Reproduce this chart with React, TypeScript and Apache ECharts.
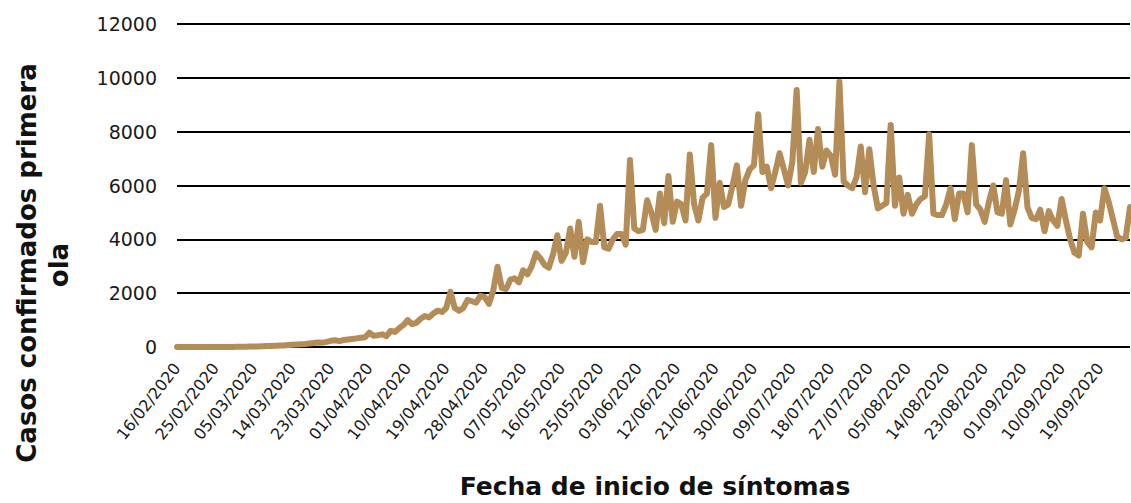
import React, { useEffect, useRef } from "react";
import * as echarts from "echarts";

const startDate = { year: 2020, month: 2, day: 16 };
const yTicks = [0, 2000, 4000, 6000, 8000, 10000, 12000];
const xTitle = "Fecha de inicio de síntomas";
const yTitleLine1 = "Casos confirmados primera";
const yTitleLine2 = "ola";

const cases = [
  0, 0, 0, 0, 0, 0, 0, 0, 1, 0, 1, 2, 3, 4,
  5, 8, 10, 14, 18, 22, 30, 35, 40, 48, 55, 60, 70, 80,
  90, 100, 110, 130, 150, 170, 160, 190, 230, 250, 220, 260, 280, 300,
  320, 340, 360, 530, 420, 440, 470, 400, 600, 560, 700, 820, 1000, 850,
  900, 1050, 1150, 1100, 1250, 1350, 1300, 1450, 2050, 1450, 1350, 1450, 1750, 1700,
  1650, 1900, 1850, 1600, 2100, 2980, 2200, 2150, 2500, 2550, 2400, 2850, 2700, 3000,
  3480, 3300, 3050, 2950, 3450, 4150, 3200, 3500, 4400, 3350, 4650, 3150, 4000, 3900,
  3900, 5250, 3700, 3650, 4000, 4200, 4200, 3800, 6950, 4400, 4300, 4350, 5450, 5000,
  4350, 5700, 4600, 6350, 4650, 5400, 5300, 4700, 7150, 5300, 4700, 5550, 5700, 7500,
  4800, 6100, 5200, 5300, 6000, 6750, 5250, 6200, 6600, 6750, 8650, 6500, 6700, 5900,
  6500, 7200, 6600, 6000, 6900, 9550, 6100, 6500, 7700, 6500, 8100, 6700, 7300, 7100,
  6400, 9850, 6150, 6000, 5900, 6300, 7450, 5750, 7350, 6000, 5150, 5250, 5350, 8250,
  5250, 6300, 4950, 5650, 4950, 5300, 5500, 5600, 7900, 4950, 4900, 4900, 5300, 5900,
  4750, 5700, 5700, 5000, 7500, 5300, 5100, 4650, 5400, 6000, 5000, 4950, 6200, 4550,
  5100, 5800, 7200, 5200, 4800, 4750, 5100, 4300, 5050, 4700, 4500, 5500, 4700, 4000,
  3500, 3400, 4950, 3900, 3700, 5000, 4700, 5900, 5400, 4750, 4100, 4000, 4050, 5200,
];

function buildDates(count: number): string[] {
  const out: string[] = [];
  const d = new Date(Date.UTC(startDate.year, startDate.month - 1, startDate.day));
  for (let i = 0; i < count; i++) {
    const dd = String(d.getUTCDate()).padStart(2, "0");
    const mm = String(d.getUTCMonth() + 1).padStart(2, "0");
    out.push(`${dd}/${mm}/${d.getUTCFullYear()}`);
    d.setUTCDate(d.getUTCDate() + 1);
  }
  return out;
}

const dates = buildDates(cases.length);
const FONT = "'DejaVu Sans', sans-serif";

export default function App() {
  const ref = useRef<HTMLDivElement>(null);
  useEffect(() => {
    if (!ref.current) return;
    const chart = echarts.init(ref.current, undefined, { renderer: "svg" });
    chart.setOption({
      animation: false,
      backgroundColor: "#ffffff",
      grid: { left: 177, right: 1, top: 24, bottom: 156, containLabel: false },
      xAxis: {
        type: "category",
        data: dates,
        boundaryGap: false,
        axisLine: { show: false },
        axisTick: { show: false },
        splitLine: { show: false },
        axisLabel: {
          interval: 8,
          rotate: 52,
          fontSize: 16,
          fontFamily: FONT,
          color: "#1a1a1a",
          margin: 18,
        },
      },
      yAxis: {
        type: "value",
        min: yTicks[0],
        max: yTicks[yTicks.length - 1],
        interval: 2000,
        axisLine: { show: false },
        axisTick: { show: false },
        axisLabel: {
          fontSize: 19,
          fontFamily: FONT,
          color: "#1a1a1a",
          margin: 20,
          formatter: (v: number) => String(v),
        },
        splitLine: { show: true, lineStyle: { color: "#000000", width: 2 } },
      },
      series: [
        {
          type: "line",
          data: cases,
          symbol: "none",
          smooth: false,
          lineStyle: { color: "#B48C58", width: 6, join: "round", cap: "round" },
          itemStyle: { color: "#B48C58" },
          z: 3,
        },
      ],
      graphic: [
        {
          type: "text",
          x: 27,
          y: 263,
          rotation: Math.PI / 2,
          style: {
            text: yTitleLine1,
            font: `bold 26px ${FONT}`,
            fill: "#111111",
            align: "center",
            verticalAlign: "middle",
          },
        },
        {
          type: "text",
          x: 59,
          y: 265,
          rotation: Math.PI / 2,
          style: {
            text: yTitleLine2,
            font: `bold 26px ${FONT}`,
            fill: "#111111",
            align: "center",
            verticalAlign: "middle",
          },
        },
        {
          type: "text",
          x: 655,
          y: 486,
          style: {
            text: xTitle,
            font: `bold 25px ${FONT}`,
            fill: "#111111",
            align: "center",
            verticalAlign: "middle",
          },
        },
      ],
    });
    return () => chart.dispose();
  }, []);
  return (
    <div
      ref={ref}
      style={{ position: "fixed", left: 0, top: 0, width: 1131, height: 503, background: "#fff" }}
    />
  );
}
